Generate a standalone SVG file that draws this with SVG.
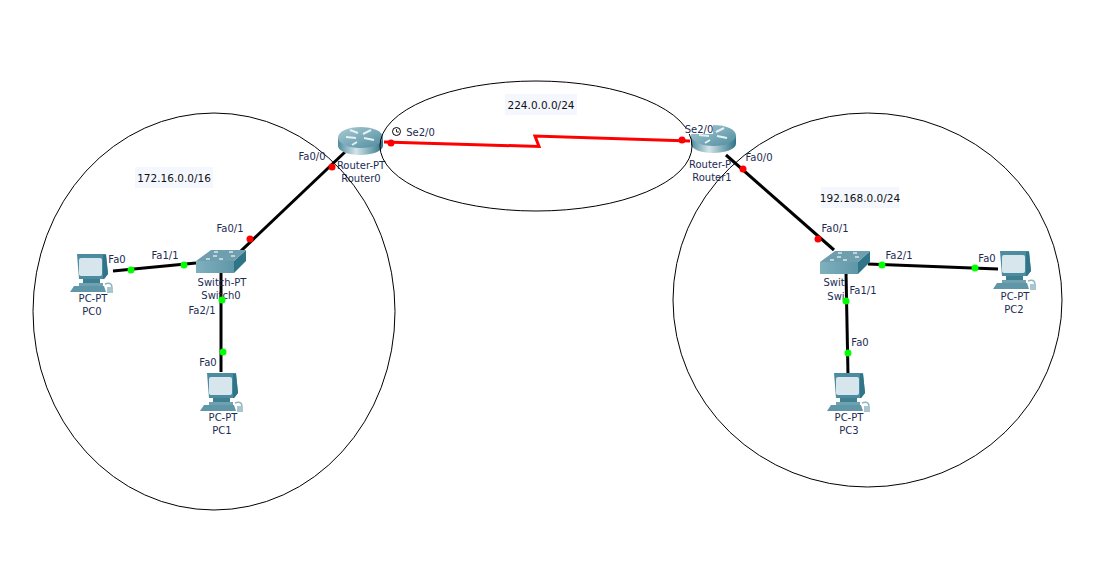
<svg xmlns="http://www.w3.org/2000/svg" width="1101" height="570" viewBox="0 0 1101 570">
<style>
text{font-family:"DejaVu Sans","Liberation Sans",sans-serif;font-size:10px;fill:#1c2b52;text-anchor:middle}
.net{fill:#111;font-size:10.500px}
.tag{fill:#f5f7ff}
.area{fill:none;stroke:#000;stroke-width:1}
.eth{fill:none;stroke:#000;stroke-width:3}
.ser{fill:none;stroke:#f00;stroke-width:3}
.r{fill:#f00}.g{fill:#0f0}
</style>
<defs>
<linearGradient id="rg" x1="0" x2="1" y1="0" y2="0"><stop offset="0" stop-color="#4f8c9f"/><stop offset=".4" stop-color="#d3e4e8"/><stop offset="1" stop-color="#2f7487"/></linearGradient>
<linearGradient id="rt" x1="0" x2="1" y1="0" y2="1"><stop offset="0" stop-color="#a9cbd4"/><stop offset="1" stop-color="#4f8c9f"/></linearGradient>
<linearGradient id="sf" x1="0" x2="1" y1="0" y2="0"><stop offset="0" stop-color="#7fb0bd"/><stop offset="1" stop-color="#5f97a8"/></linearGradient>
<g id="router">
<path d="M0 11V19C0 24 10 28 22 28S45 24 45 19V11Z" fill="url(#rg)"/>
<ellipse cx="22.500" cy="10.500" rx="22.500" ry="10.500" fill="url(#rt)"/>
<path d="M8 10L18 11M25 7L33 3M26 11L36 13M20 6L12 3M19 15L14 18" stroke="#e6f0f2" stroke-width="2" fill="none"/>
</g>
<g id="switch">
<path d="M0 11V23H38V11Z" fill="url(#sf)"/>
<path d="M38 11V23L50 11V0Z" fill="#2f7487"/>
<path d="M0 11L15 0H50L38 11Z" fill="#6f9fae"/>
<path d="M10 9h4M23 9h4M18 2h4M33 2h4M35 6h4M17 6h4" stroke="#d9e7ea" stroke-width="1.500"/>
</g>
<g id="pc">
<path d="M7 0H36L38 20L34 25H9Z" fill="#4d8ba0"/>
<path d="M33 1H36L38 20L34 25H33Z" fill="#2f7487"/>
<rect x="9" y="4" width="23" height="18" rx="2" fill="#d6e6ec"/>
<path d="M13 25H30V29H13Z" fill="#3f7f92"/>
<path d="M9 29H33V32H9Z" fill="#6fa1b0"/>
<path d="M4 32H34L36 38H0Z" fill="#5f97a8"/>
<path d="M35 30C41 28 43 31 41 35" fill="none" stroke="#8fb5bf" stroke-width="1.500"/>
<rect x="37" y="33" width="6" height="6" fill="#a9c6ce"/>
</g>
</defs>
<rect width="1101" height="570" fill="#fff"/>
<g id="connectors">
<path class="eth" d="M345 152L223 268"/>
<path class="eth" d="M113 271L196 263"/>
<path class="eth" d="M221 273V372"/>
<path class="eth" d="M726 155L834 250"/>
<path class="eth" d="M868 264L998 269"/>
<path class="eth" d="M846 272L848 375"/>
<path class="ser" d="M384 142L539 146.500L535 136L690 141"/>
</g>
<g id="Router0"><use href="#router" x="338" y="127"/><text x="361" y="169">Router-PT</text><text x="361" y="182">Router0</text></g>
<g id="Router1"><use href="#router" x="691" y="125"/><text x="710" y="168">Router-P</text><text x="712" y="181">Router1</text></g>
<g id="Switch0"><use href="#switch" x="196" y="250"/><text x="222" y="286">Switch-PT</text><text x="221" y="299">Switch0</text></g>
<g id="Switch1"><use href="#switch" x="820" y="251"/><text x="834" y="286">Swit</text><text x="836" y="300">Swi</text></g>
<g id="PC0"><use href="#pc" x="70" y="254"/><text x="93" y="302">PC-PT</text><text x="92" y="315">PC0</text></g>
<g id="PC1"><use href="#pc" x="200" y="373"/><text x="223" y="421">PC-PT</text><text x="222" y="434">PC1</text></g>
<g id="PC2"><use href="#pc" x="993" y="251"/><text x="1015" y="300">PC-PT</text><text x="1014" y="313">PC2</text></g>
<g id="PC3"><use href="#pc" x="827" y="373"/><text x="849" y="421">PC-PT</text><text x="849" y="434">PC3</text></g>
<g id="areas">
<ellipse class="area" cx="214" cy="311.500" rx="181" ry="198.500"/>
<ellipse class="area" cx="536" cy="146" rx="156" ry="65"/>
<ellipse class="area" cx="867.500" cy="300" rx="194.500" ry="187"/>
</g>
<g id="ports">
<circle class="r" cx="332" cy="167" r="3.500"/><circle class="r" cx="250" cy="239" r="3.500"/>
<circle class="r" cx="391" cy="143" r="3.500"/><circle class="r" cx="682" cy="140" r="3.500"/>
<circle class="r" cx="743" cy="169" r="3.500"/><circle class="r" cx="818" cy="239" r="3.500"/>
<circle class="g" cx="131" cy="270" r="3.500"/><circle class="g" cx="184" cy="265" r="3.500"/>
<circle class="g" cx="222" cy="300" r="3.500"/><circle class="g" cx="223" cy="352" r="3.500"/>
<circle class="g" cx="882" cy="265" r="3.500"/><circle class="g" cx="975" cy="268" r="3.500"/>
<circle class="g" cx="846" cy="301" r="3.500"/><circle class="g" cx="848" cy="353" r="3.500"/>
</g>
<g id="labels">
<text x="312" y="160">Fa0/0</text><text x="420.500" y="136">Se2/0</text>
<circle cx="396.500" cy="131.500" r="4" fill="#fff" stroke="#000"/><path d="M396.500 129V132H399" fill="none" stroke="#000" stroke-width=".8"/>
<rect x="686" y="124" width="27" height="10" fill="#fff"/><text x="699" y="133">Se2/0</text><text x="759" y="161">Fa0/0</text>
<text x="230" y="232">Fa0/1</text><text x="165" y="259">Fa1/1</text><text x="117" y="263">Fa0</text>
<text x="202" y="314">Fa2/1</text><text x="208" y="366">Fa0</text>
<text x="835" y="232">Fa0/1</text><text x="899" y="259">Fa2/1</text><text x="987" y="262">Fa0</text>
<text x="863" y="294">Fa1/1</text><text x="860" y="346">Fa0</text>
<rect class="tag" x="505" y="94" width="72" height="21"/><text class="net" x="541" y="109">224.0.0.0/24</text>
<rect class="tag" x="135" y="167" width="78" height="21"/><text class="net" x="174" y="182">172.16.0.0/16</text>
<rect class="tag" x="821" y="187" width="78" height="21"/><text class="net" x="860" y="202">192.168.0.0/24</text>
</g>
</svg>
